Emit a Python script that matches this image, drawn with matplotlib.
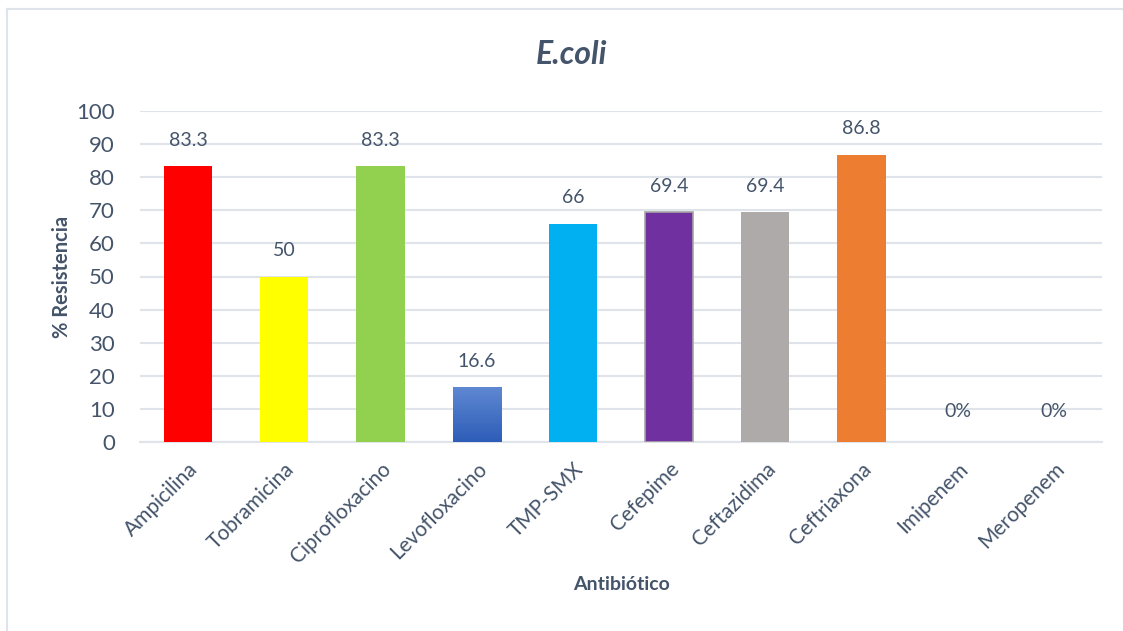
import numpy as np
import matplotlib
matplotlib.use("Agg")
import matplotlib.pyplot as plt
from matplotlib.lines import Line2D

antibioticos = ["Ampicilina", "Tobramicina", "Ciprofloxacino", "Levofloxacino", "TMP-SMX",
                "Cefepime", "Ceftazidima", "Ceftriaxona", "Imipenem", "Meropenem"]
resistencia = [83.3, 50, 83.3, 16.6, 66, 69.4, 69.4, 86.8, 0, 0]
etiquetas = ["83.3", "50", "83.3", "16.6", "66", "69.4", "69.4", "86.8", "0%", "0%"]
cores = ["#FF0000", "#FFFF00", "#92D050", "#3A68C4", "#00B0F0",
         "#7030A0", "#AEAAAA", "#ED7D31", "#4472C4", "#4472C4"]

txt = "#44546A"
grid = "#DFE3EA"
plt.rcParams["font.family"] = ["Lato", "DejaVu Sans"]

fig = plt.figure(figsize=(11.23, 6.31), dpi=100)
# moldura do grafico (so topo e esquerda aparecem)
xf = 6.5 / 1123
yf = 1 - 8.5 / 631
fig.lines.append(Line2D([xf, 1], [yf, yf], transform=fig.transFigure, color=grid, lw=1.5))
fig.lines.append(Line2D([xf, xf], [0, yf], transform=fig.transFigure, color=grid, lw=1.5))

ax = fig.add_axes([140 / 1123, 1 - 442 / 631, 962 / 1123, 331 / 631])
x = np.arange(len(antibioticos))
bars = ax.bar(x, resistencia, width=0.5, color=cores, zorder=3)
bars[5].set_edgecolor("#A5A5A5")
bars[5].set_linewidth(1.2)

# gradiente na barra da levofloxacina
b = bars[3]
grad = np.linspace(0, 1, 100).reshape(-1, 1)
cmap = matplotlib.colors.LinearSegmentedColormap.from_list("g", ["#2E5DB8", "#5F88D2"])
im = ax.imshow(grad, cmap=cmap, aspect="auto", origin="lower", zorder=4,
               extent=[b.get_x(), b.get_x() + b.get_width(), 0, b.get_height()])
im.set_clip_path(b)

for xi, v, lab in zip(x, resistencia, etiquetas):
    ax.annotate(lab, (xi, v), xytext=(0, 18.7 if v > 0 else 22), textcoords="offset points",
                ha="center", va="center", fontsize=14, color=txt)

ax.set_xlim(-0.5, len(antibioticos) - 0.5)
ax.set_ylim(0, 100)
ax.set_yticks(np.arange(0, 101, 10))
ax.yaxis.grid(True, color=grid, linewidth=1.5, zorder=0)
ax.set_xticks(x)
ax.set_xticklabels(antibioticos, rotation=45, ha="right", rotation_mode="anchor")
ax.tick_params(axis="y", length=0, labelsize=16, labelcolor=txt, pad=18)
ax.tick_params(axis="x", length=0, labelsize=15, labelcolor=txt, pad=12)
for s in ["top", "right", "left"]:
    ax.spines[s].set_visible(False)
ax.spines["bottom"].set_color(grid)
ax.spines["bottom"].set_linewidth(1.5)

ax.set_ylabel("% Resistencia", fontsize=14.5, fontweight="bold", color=txt, va="center")
ax.yaxis.set_label_coords(-(140 - 62) / 962, 0.5)
ax.set_xlabel("Antibiótico", fontsize=14, fontweight="bold", color=txt)
ax.xaxis.set_label_coords(0.5, -(585 - 442) / 331)
ax.xaxis.label.set_va("center")

fig.text(572 / 1123, 1 - 55 / 631, "E.coli", fontsize=23, fontweight="bold", fontstyle="italic",
         color=txt, ha="center", va="center")

fig.savefig("out.png", dpi=100)
